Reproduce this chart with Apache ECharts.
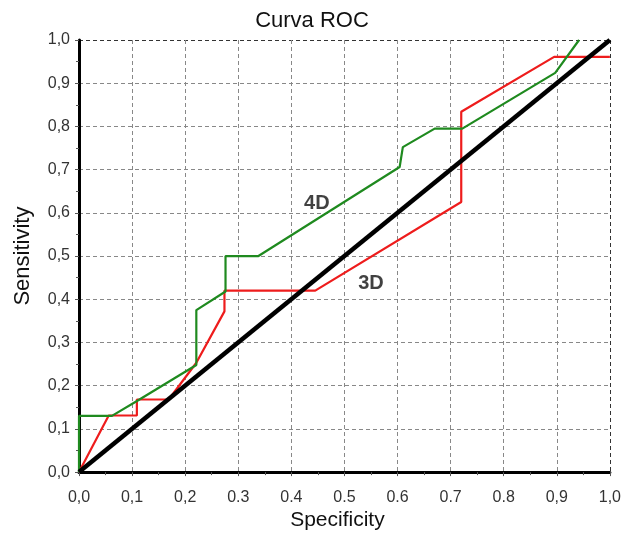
<!DOCTYPE html>
<html><head><meta charset="utf-8">
<script src="https://cdn.jsdelivr.net/npm/echarts@6/dist/echarts.min.js"></script>
<style>html,body{margin:0;padding:0;background:#fff}#c{width:624px;height:536px}</style>
</head><body><div id="c"></div>
<script>
const xTickLabels = ['0,0','0,1','0,2','0.3','0.4','0.5','0.6','0.7','0.8','0,9','1,0'];
const yTickLabels = ['0,0','0,1','0,2','0,3','0,4','0,5','0,6','0,7','0,8','0,9','1,0'];
const reference = [[0,0],[1,1]];
const roc3D = [[0,0],[0.056,0.131],[0.109,0.131],[0.109,0.168],[0.169,0.168],[0.221,0.253],[0.274,0.372],[0.274,0.42],[0.445,0.42],[0.72,0.625],[0.72,0.834],[0.895,0.961],[1.0,0.961]];
const roc4D = [[0,0],[0,0.13],[0.062,0.13],[0.11,0.165],[0.221,0.248],[0.221,0.375],[0.276,0.418],[0.276,0.5],[0.338,0.5],[0.604,0.706],[0.61,0.752],[0.67,0.795],[0.722,0.795],[0.897,0.924],[0.942,1.0]];
const labels = [{name:'4D', value:[0.448,0.621]},{name:'3D', value:[0.55,0.437]}];

const gridColors = ['#888','#888','#888','#888','#888','#888','#888','#888','#888','#888','#333'];
const chart = echarts.init(document.getElementById('c'));
chart.setOption({
  animation:false,
  title:{text:'Curva ROC', left:307, textAlign:'center', top:5, textStyle:{fontFamily:'Liberation Sans', fontSize:22, fontWeight:'normal', color:'#111'}},
  grid:{left:79, right:11, top:40, bottom:62},
  xAxis:{type:'value', min:0, max:1, interval:0.1,
    name:'Specificity', nameLocation:'middle', nameGap:37,
    nameTextStyle:{fontFamily:'Liberation Sans', fontSize:21, color:'#111', padding:[0,14,0,0]},
    axisLine:{show:true, onZero:false, lineStyle:{color:'#000', width:3}},
    axisTick:{show:true, length:4, lineStyle:{color:'#555'}},
    minorTick:{show:true, splitNumber:2, length:3, lineStyle:{color:'#555'}},
    axisLabel:{margin:17, fontFamily:'Liberation Sans', fontSize:16, color:'#333', formatter:v=>xTickLabels[Math.round(v*10)]},
    splitLine:{show:true, lineStyle:{color:gridColors, type:[4,3], width:1}}
  },
  yAxis:{type:'value', min:0, max:1, interval:0.1,
    name:'Sensitivity', nameLocation:'middle', nameGap:45, nameRotate:90,
    nameTextStyle:{fontFamily:'Liberation Sans', fontSize:22, color:'#111'},
    axisLine:{show:true, onZero:false, lineStyle:{color:'#000', width:3}},
    axisTick:{show:true, length:4, lineStyle:{color:'#555'}},
    minorTick:{show:true, splitNumber:2, length:3, lineStyle:{color:'#555'}},
    axisLabel:{margin:9, fontFamily:'Liberation Sans', fontSize:16, color:'#333', formatter:v=>yTickLabels[Math.round(v*10)]},
    splitLine:{show:true, lineStyle:{color:gridColors, type:[4,3], width:1}}
  },
  series:[
    {type:'line', data:roc3D, symbol:'none', lineStyle:{color:'#ee1c1c', width:2.2}, z:3},
    {type:'line', data:roc4D, symbol:'none', lineStyle:{color:'#1f8a1f', width:2.2}, z:4},
    {type:'line', data:reference, symbol:'none', lineStyle:{color:'#000', width:4.5}, z:5},
    {type:'scatter', data:labels, symbolSize:0, z:6,
      label:{show:true, position:'inside', formatter:p=>p.name, fontFamily:'Liberation Sans', fontSize:20, fontWeight:'bold', color:'#111'}}
  ]
});
</script></body></html>
